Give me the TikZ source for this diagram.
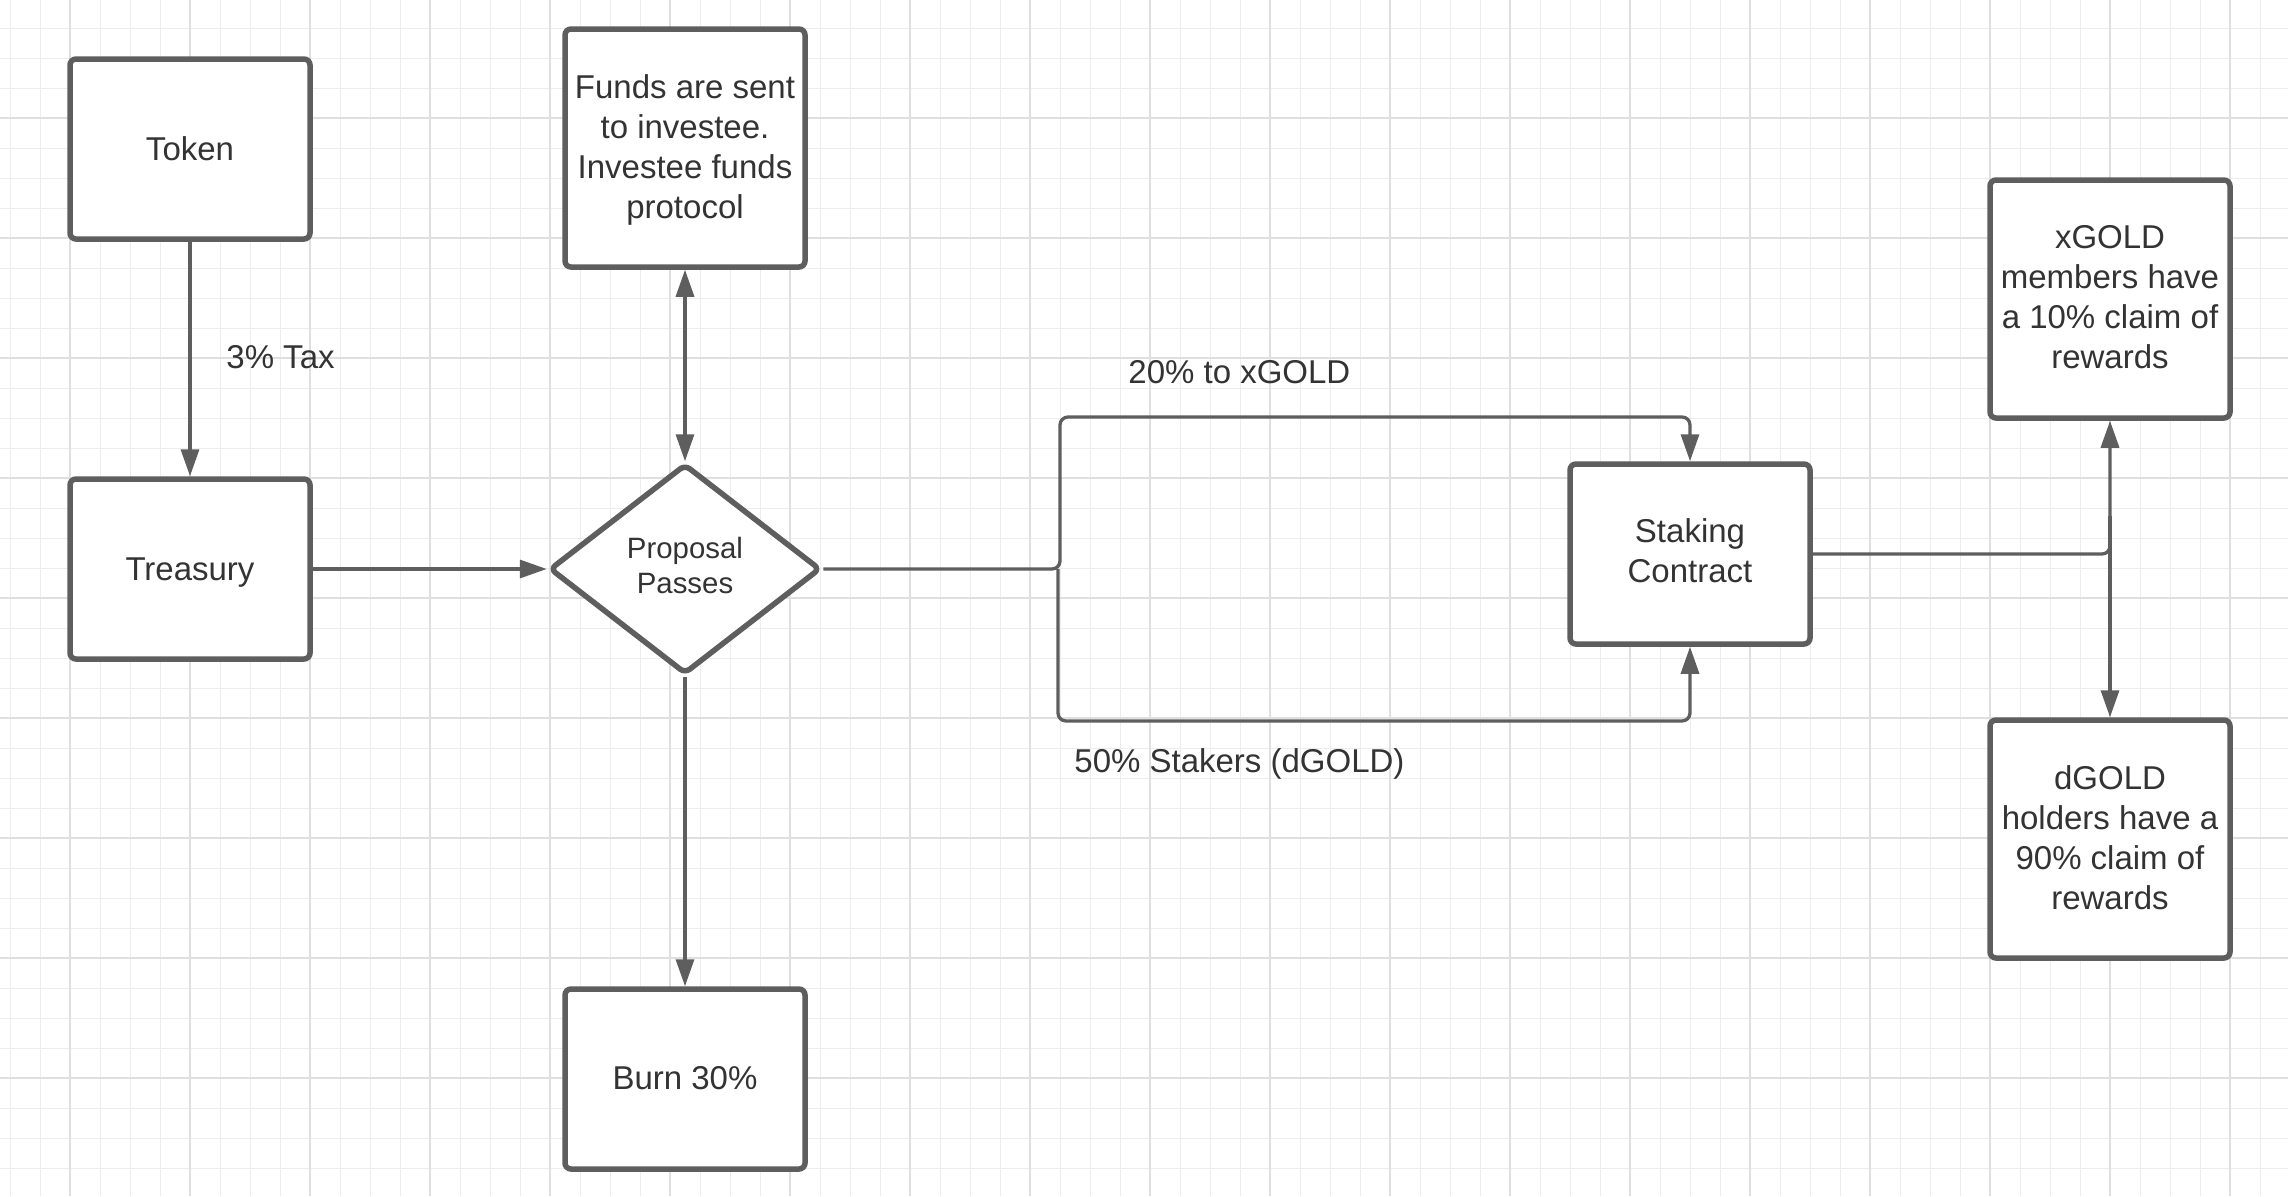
\documentclass[tikz,border=0pt]{standalone}
\usepackage{fontspec}
\setmainfont{Liberation Sans}
\usetikzlibrary{arrows.meta,shapes.geometric}
\definecolor{linegray}{HTML}{5E5E5E}
\definecolor{txtgray}{HTML}{333333}
\definecolor{gridminor}{HTML}{EDEDED}
\definecolor{gridmajor}{HTML}{DFDFDF}
\newcommand\boxlines[2]{\raisebox{#1}[\height][\depth]{\begin{tabular}{@{}c@{}}#2\end{tabular}}}
\begin{document}
\begin{tikzpicture}[x=0.5pt,y=-0.5pt,
  box/.style={draw=linegray, line width=2.75pt, rounded corners=3pt, minimum width=120pt, minimum height=90pt, inner sep=0pt, align=center, text=txtgray, font=\fontsize{16.5}{20}\selectfont, fill=white},
  tallbox/.style={box, minimum height=119pt},
  dec/.style={diamond, draw=linegray, line width=2.75pt, rounded corners=3pt, minimum width=135.5pt, minimum height=105pt, inner sep=0pt, align=center, text=txtgray, font=\fontsize{14.7}{17.5}\selectfont, fill=white},
  conn/.style={draw=linegray, line width=1.65pt, rounded corners=4pt},
  arr/.style={conn, -{Triangle[length=13.5pt,width=9pt]}},
  darr/.style={conn, {Triangle[length=13.5pt,width=9pt]}-{Triangle[length=13.5pt,width=9pt]}},
  lbl/.style={anchor=base west, inner sep=0pt, text=txtgray, font=\fontsize{16.5}{20}\selectfont}]
\useasboundingbox (0,0) rectangle (2288,1196);
\fill[white] (0,0) rectangle (2288,1196);
% grid
\foreach \i in {0,...,75} \draw[gridminor, line width=0.5pt] ({10+30*\i},0) -- ({10+30*\i},1196);
\foreach \i in {0,...,38} \draw[gridminor, line width=0.5pt] (0,{28+30*\i}) -- (2288,{28+30*\i});
\foreach \i in {0,...,18} \draw[gridmajor, line width=0.6pt] ({70+120*\i},0) -- ({70+120*\i},1196);
\foreach \i in {0,...,8} \draw[gridmajor, line width=0.6pt] (0,{118+120*\i}) -- (2288,{118+120*\i});
% nodes
\node[box] (token) at (190,149) {\boxlines{-1.9pt}{Token}};
\node[box] (treasury) at (190,569) {\boxlines{-1.9pt}{Treasury}};
\node[tallbox] (funds) at (685,148) {\boxlines{-1.4pt}{Funds are sent\\to investee.\\Investee funds\\protocol}};
\node[dec] (prop) at (685,569) {\boxlines{0pt}{Proposal\\Passes}};
\node[box] (burn) at (685,1079) {\boxlines{-1.3pt}{Burn 30\%}};
\node[box] (stake) at (1690,554) {\boxlines{-0.1pt}{Staking\\Contract}};
\node[tallbox] (xgold) at (2110,299) {\boxlines{-0.8pt}{xGOLD\\members have\\a 10\% claim of\\rewards}};
\node[tallbox] (dgold) at (2110,839) {\boxlines{-1pt}{dGOLD\\holders have a\\90\% claim of\\rewards}};
% helper coordinates
\coordinate (j1) at (1060,417);
\coordinate (jsplit) at (1058,569);
\coordinate (j2) at (1058,721);
\coordinate (j3) at (2110,516);
% connectors
\draw[arr] (token.south) -- (treasury.north);
\draw[arr] (treasury.east) -- (prop.west);
\draw[darr] (funds.south) -- (prop.north);
\draw[arr] (prop.south) -- (burn.north);
\draw[arr] (prop.east) -| (j1) -| (stake.north);
\draw[arr] (jsplit) -- (j2) -| (stake.south);
\draw[arr] (stake.east) -| (xgold.south);
\draw[arr] (j3) -- (dgold.north);
% labels
\node[lbl] (tax) at (226,368) {3\% Tax};
\node[lbl] (l20) at (1128,383) {20\% to xGOLD};
\node[lbl] (l50) at (1074,772) {50\% Stakers (dGOLD)};
\end{tikzpicture}
\end{document}
